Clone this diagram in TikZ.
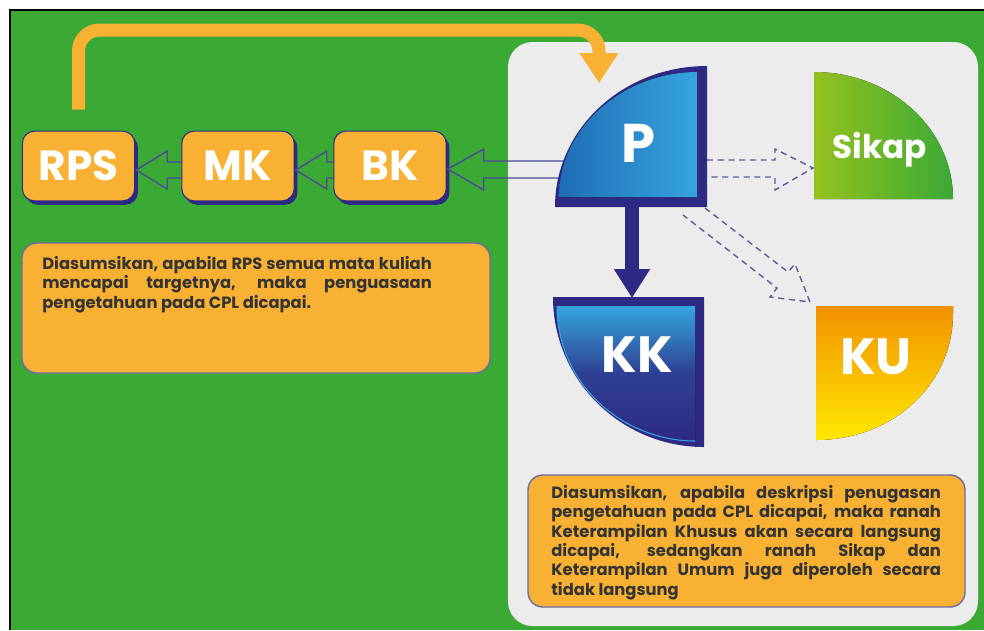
\documentclass[tikz,border=0pt]{standalone}
\usepackage{fontspec}
\setmainfont{Poppins}
\usetikzlibrary{arrows.meta,calc,shadows}
\definecolor{bggreen}{HTML}{3AAA35}
\definecolor{panelgray}{HTML}{ECECEC}
\definecolor{boxorange}{HTML}{F8B133}
\definecolor{navy}{HTML}{2E2A83}
\definecolor{dashblue}{HTML}{5B5D9E}
\definecolor{pdark}{HTML}{1F6CB4}
\definecolor{plight}{HTML}{35A5DD}
\definecolor{kkmid}{HTML}{2E3F93}
\definecolor{sikapl}{HTML}{95C11F}
\definecolor{kutop}{HTML}{F39200}
\definecolor{kubot}{HTML}{FFE800}
\tikzset{
  stage/.style={draw=navy, line width=0.6pt, fill=boxorange, rounded corners=7pt,
    minimum width=64pt, minimum height=39.7pt, text=white,
    font=\fontsize{24}{24}\selectfont\bfseries,
    general shadow={fill=navy, shadow xshift=1.8pt, shadow yshift=-2.2pt}},
  hol/.style={draw=navy!85, line width=0.8pt, line join=miter},
  dsh/.style={draw=dashblue, line width=0.8pt, dash pattern=on 3.5pt off 2.6pt},
  note/.style={draw=navy!70, line width=0.8pt, fill=boxorange, rounded corners=8.5pt},
  notetext/.style={anchor=north west, text width=221.7pt, align=justify, inner sep=0pt,
    font=\fontsize{9.3}{11}\selectfont\bfseries, text=black!80},
  quad/.style={text=white, font=\fontsize{29}{29}\selectfont\bfseries}
}
\begin{document}
\begin{tikzpicture}[x=0.02cm,y=-0.02cm]
    \useasboundingbox (0,0) rectangle (984,630);
    \fill[white] (0,0) rectangle (984,630);
    \fill[bggreen] (10,10) rectangle (984,630);
    \draw[line width=1.2pt] (10,630) -- (10,10) -- (984,10);
    \fill[panelgray,rounded corners=14pt] (508,42) rectangle (978,626);

    \node[stage] (rps) at (78.5,166) {RPS};
    \node[stage] (mk) at (238,166) {MK};
    \node[stage] (bk) at (390,166) {BK};
    \coordinate (ptail) at (575,166);
    \coordinate (ptop) at (599,83);
    \coordinate (pfoot) at (632,205);
    \coordinate (kktop) at (632,298);
    \coordinate (pright) at (707,168);
    \coordinate (sktip) at (813,168);
    \coordinate (kutip) at (810,302);

    \draw[boxorange,line width=7.4pt,rounded corners=12pt,-{Triangle[length=17pt,width=21pt]}]
      ($(rps.north)+(0,-21)$) |- ($(ptop)+(0,-53)$) -- (ptop);

    \draw[hol] ($(mk.west)+(0,-4)$) -| ($(rps.east)+(32,-15)$) -- ($(rps.east)+(1,4)$)
      -- ($(rps.east)+(32,23)$) |- ($(mk.west)+(0,12)$);
    \draw[hol] ($(bk.west)+(0,-4)$) -| ($(mk.east)+(32,-15)$) -- ($(mk.east)+(1,4)$)
      -- ($(mk.east)+(32,23)$) |- ($(bk.west)+(0,12)$);
    \draw[hol] ($(ptail)+(0,-5)$) -| ($(bk.east)+(37,-17)$) -- ($(bk.east)+(1,3)$)
      -- ($(bk.east)+(37,24)$) |- ($(ptail)+(0,12)$);

    \draw[dsh] ($(pright)+(0,-8)$) -- ($(sktip)+(-38,-8)$) -- ($(sktip)+(-38,-19)$) -- (sktip)
      -- ($(sktip)+(-38,22)$) -- ($(sktip)+(-38,9)$) -- ($(pright)+(0,9)$);
    \draw[dsh] (705,208) -- ($(kutip)+(-22,-30)$) -- ($(kutip)+(-15,-38)$) -- (kutip)
      -- ($(kutip)+(-40,-5)$) -- ($(kutip)+(-33,-14)$) -- (683,215);

    % P
    \fill[navy] (555,207) .. controls (555,129) and (623,66) .. (707,66) -- (707,207) -- cycle;
    \fill[left color=pdark,right color=plight] (559,197) .. controls (559,126) and (625,72) .. (697,72) -- (697,197) -- cycle;
    \draw[navy,line width=8pt,-{Triangle[length=16.5pt,width=19.5pt]}] (pfoot) -- (kktop);
    % KK
    \fill[navy] (553,297) .. controls (553,380) and (621,447) .. (704,447) -- (704,297) -- cycle;
    \fill[top color=plight,bottom color=navy,middle color=kkmid] (557,306) .. controls (557,384) and (623,441) .. (695,441) -- (695,306) -- cycle;
    \draw[plight,line width=0.6pt] (557,306) .. controls (557,384) and (623,441) .. (695,441);
    % Sikap, KU
    \fill[left color=sikapl,right color=bggreen] (814,199) -- (814,72) .. controls (891,72) and (953,129) .. (953,199) -- cycle;
    \fill[top color=kutop,bottom color=kubot] (816,306) -- (953,306) -- (953,313) .. controls (953,385) and (892,440) .. (816,440) -- cycle;

    \node[quad,font=\fontsize{31}{31}\selectfont\bfseries] (p) at (638,143) {P};
    \node[quad] (kk) at (637,355) {KK};
    \node[quad] (ku) at (876,357) {KU};
    \node[quad,font=\fontsize{18.6}{18.6}\selectfont\bfseries] (sikap) at (880,150) {Sikap};

    \draw[note] (22,243) rectangle (490,373);
    \node[notetext] (txtrps) at (42,256) {Diasumsikan, apabila RPS semua mata kuliah\linebreak mencapai targetnya, maka penguasaan\linebreak pengetahuan pada CPL dicapai.};
    \draw[note] (528,475) rectangle (965,607);
    \node[notetext] (txtp) at (551,485) {Diasumsikan, apabila deskripsi penugasan\linebreak pengetahuan pada CPL dicapai, maka ranah\linebreak Keterampilan Khusus akan secara langsung\linebreak dicapai, sedangkan ranah Sikap dan\linebreak Keterampilan Umum juga diperoleh secara\linebreak tidak langsung};
  \end{tikzpicture}
\end{document}
